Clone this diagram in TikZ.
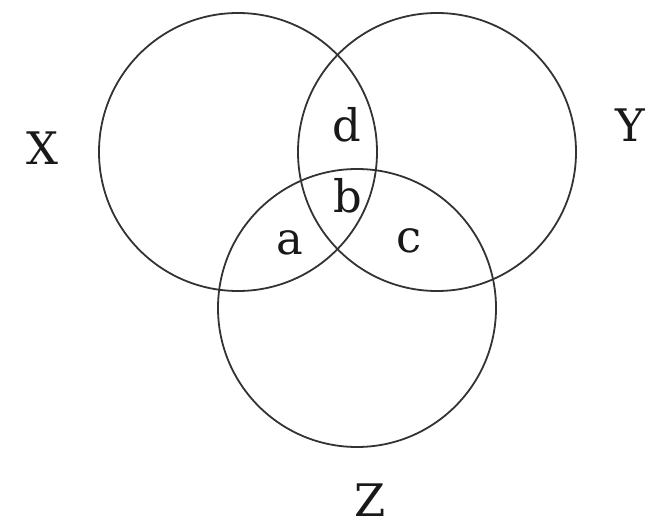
\documentclass[tikz,border=0pt]{standalone}
\usepackage{fontspec}
\setmainfont{DejaVu Serif}
\begin{document}
\begin{tikzpicture}[x=1bp,y=-1bp,
  ring/.style={draw=black!80,line width=1.8bp},
  lab/.style={anchor=base,inner sep=0pt,text=black!90,font=\fontsize{45}{54}\selectfont}]
\useasboundingbox (0,0) rectangle (648,528);
\coordinate (cx) at (238,152);
\coordinate (cy) at (437,152);
\coordinate (cz) at (357,308);
\draw[ring] (cx) circle[radius=139bp];
\draw[ring] (cy) circle[radius=139bp];
\draw[ring] (cz) circle[radius=139bp];
\node[lab] (X) at (42,165) {X};
\node[lab] (Y) at (630,142) {Y};
\node[lab] (Z) at (370,516) {Z};
\node[lab] (d) at (347,142) {d};
\node[lab] (b) at (348,213) {b};
\node[lab] (a) at (290,255) {a};
\node[lab] (c) at (409,253) {c};
\end{tikzpicture}
\end{document}
